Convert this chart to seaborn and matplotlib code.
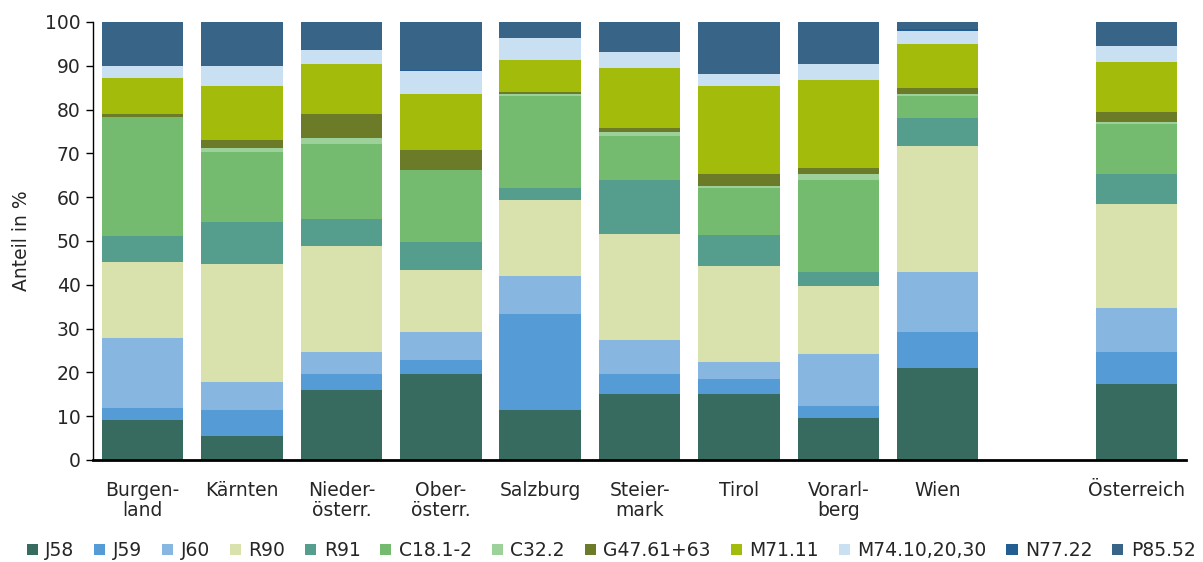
import pandas as pd
import seaborn as sns
import matplotlib.pyplot as plt
from matplotlib.patches import Patch

# Regions (x axis), with an empty slot before the national total
regions = ['Burgen-\nland', 'Kärnten', 'Nieder-\nösterr.', 'Ober-\nösterr.', 'Salzburg',
           'Steier-\nmark', 'Tirol', 'Vorarl-\nberg', 'Wien', 'Österreich']
order = regions[:9] + [' '] + regions[9:]

# Shares in % per diagnosis group (bottom to top)
J58 = [9.1, 5.5, 16.0, 19.6, 11.4, 15.0, 15.0, 9.6, 21.0, 17.4]
J59 = [2.8, 5.8, 3.6, 3.2, 21.9, 4.6, 3.6, 2.7, 8.2, 7.3]
J60 = [15.9, 6.5, 5.1, 6.4, 8.7, 7.8, 3.8, 11.9, 13.7, 10.0]
R90 = [17.5, 26.9, 24.2, 14.2, 17.4, 24.2, 21.9, 15.5, 28.8, 23.7]
R91 = [5.8, 9.6, 6.2, 6.3, 2.7, 12.3, 7.1, 3.2, 6.4, 6.9]
C18 = [27.1, 16.1, 17.1, 16.5, 21.0, 10.1, 10.7, 21.0, 5.0, 11.5]
C32 = [0.0, 0.9, 1.3, 0.0, 0.5, 0.9, 0.5, 1.4, 0.5, 0.4]
G47 = [0.8, 1.8, 5.5, 4.6, 0.4, 0.9, 2.7, 1.4, 1.3, 2.3]
M71 = [8.2, 12.3, 11.5, 12.8, 7.3, 13.7, 20.1, 20.1, 10.1, 11.4]
M74 = [2.8, 4.6, 3.0, 5.1, 5.0, 3.7, 2.7, 3.6, 2.9, 3.7]
N77 = [0.0, 0.0, 0.0, 0.3, 0.0, 0.0, 0.0, 0.0, 0.5, 0.0]
P85 = [10.0, 10.0, 6.5, 11.0, 3.7, 6.8, 11.9, 9.6, 1.6, 5.4]

series_names = ['J58', 'J59', 'J60', 'R90', 'R91', 'C18.1-2', 'C32.2',
                'G47.61+63', 'M71.11', 'M74.10,20,30', 'N77.22', 'P85.52']
series_values = [J58, J59, J60, R90, R91, C18, C32, G47, M71, M74, N77, P85]
colors = ['#376b5f', '#559bd5', '#87b7e0', '#d9e2ad', '#559e8e', '#74bb6f',
          '#9dd19a', '#6b7b28', '#a3bc0c', '#c9dff2', '#235e93', '#376487']

df = pd.DataFrame(dict(zip(series_names, series_values)), index=regions)
cum = df.cumsum(axis=1)

sns.set_style('white')
plt.rcParams['font.family'] = ['DejaVu Sans']

fig = plt.figure(figsize=(12.03, 5.62), dpi=100)
ax = fig.add_axes([0.0773, 0.1815, 0.9087, 0.7795])

# stacked bars: draw cumulative totals from the top layer down
for name, color in zip(reversed(series_names), reversed(colors)):
    sns.barplot(x=cum.index, y=cum[name].values, order=order, color=color,
                saturation=1, width=0.82, errorbar=None, linewidth=0, ax=ax)

ax.set_ylim(0, 100)
ax.set_xlim(-0.5, 10.5)
ax.set_yticks(range(0, 101, 10))
ax.tick_params(axis='y', labelsize=13.5, length=5, width=1, direction='out',
               left=True, color='black', pad=4)
ax.tick_params(axis='x', labelsize=13.5, length=0, pad=15)
for lbl in ax.get_xticklabels():
    lbl.set_horizontalalignment('center')
    lbl.set_linespacing(1.1)
ax.set_xlabel('')
ax.set_ylabel('Anteil in %', fontsize=13.5, labelpad=10)

sns.despine(ax=ax)
ax.spines['left'].set_color('black')
ax.spines['left'].set_linewidth(1)
ax.spines['bottom'].set_color('black')
ax.spines['bottom'].set_linewidth(2)

handles = [Patch(facecolor=c, edgecolor='none') for c in colors]
fig.legend(handles, series_names, loc='lower center', bbox_to_anchor=(0.508, -0.02),
           ncol=12, frameon=False, fontsize=13.5, handlelength=0.6, handleheight=0.6,
           handletextpad=0.4, columnspacing=1.05, borderaxespad=0.3)

fig.savefig('out.png', dpi=100)
